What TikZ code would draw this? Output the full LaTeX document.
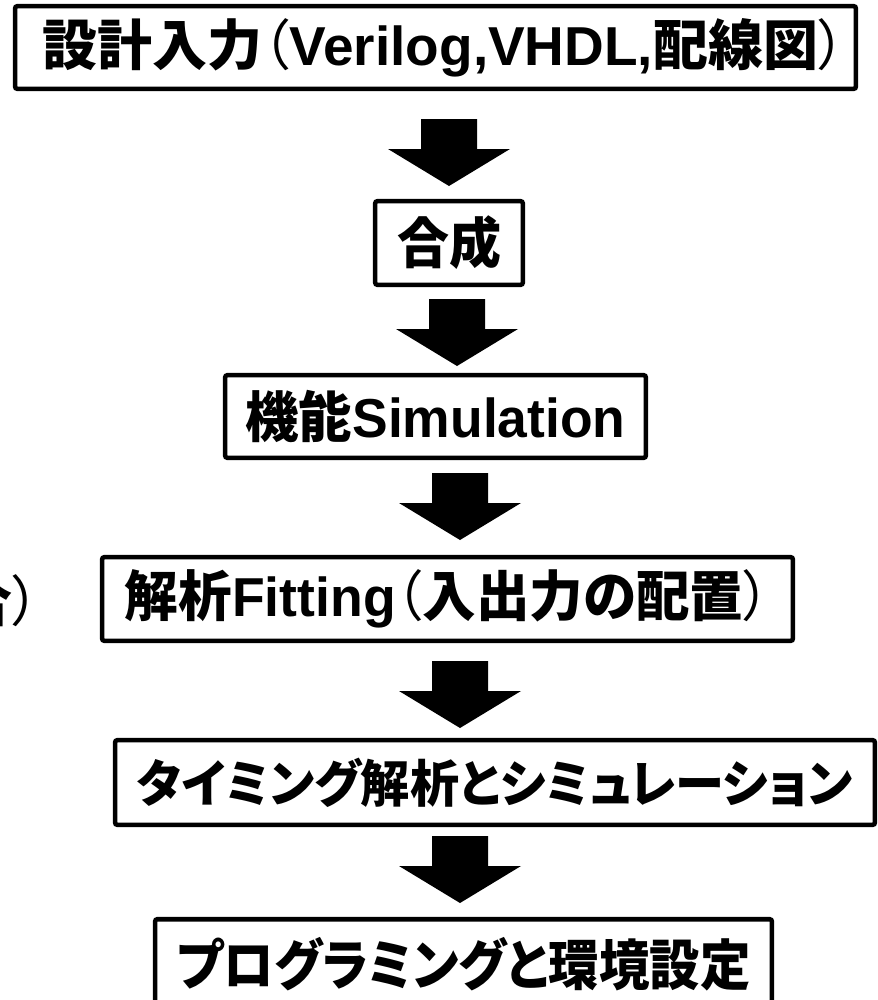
\documentclass[tikz,border=0pt]{standalone}
\usepackage{fontspec}
\usepackage{graphicx}
\setmainfont{Liberation Sans}
\newfontfamily\jpf{Noto Sans CJK JP}[RawFeature=+palt]
\newfontfamily\latf{Liberation Sans}
\newsavebox\fitbox
\newdimen\pxu \pxu=0.025cm
\newcommand\fitto[2]{\sbox\fitbox{#2}\resizebox{#1\pxu}{\ht\fitbox}{\usebox\fitbox}}
\newcommand\J{\jpf\bfseries}
\newcommand\JP{\jpf\mdseries}
\newcommand\LA{\latf\bfseries}
\tikzset{
  stagebox/.style={draw=black, line width=0.1125cm, rounded corners=0.05cm, inner sep=0pt, fill=white, align=center},
  big/.style={font=\fontsize{39pt}{44pt}\selectfont},
  mid/.style={font=\fontsize{36pt}{40pt}\selectfont},
  downarrow/.pic={\fill[black] (-28,0) -- (28,0) -- (28,30) -- (61,30) -- (0,67) -- (-61,30) -- (-28,30) -- cycle;}
}
\begin{document}
\begin{tikzpicture}[x=0.025cm, y=-0.025cm]
\path[use as bounding box, clip] (0,0) rectangle (878,1000);
\fill[white] (0,0) rectangle (878,1000);

\node[stagebox, big, minimum width=21.0125cm, minimum height=2.0625cm] (b1) at (435.5,47.5)
  {\hspace*{17\pxu}\fitto{803}{\J 設計入力\JP （\LA Verilog,VHDL,\J 配線図\JP ）}};
\node[stagebox, big, minimum width=3.6875cm, minimum height=2.0875cm] (b2) at (449,243)
  {\fitto{104}{\J 合成}};
\node[stagebox, big, minimum width=10.5125cm, minimum height=2.0625cm] (b3) at (435.5,416.5)
  {\fitto{380}{\J 機能\LA Simulation}};
\node[stagebox, big, minimum width=17.2625cm, minimum height=2.0875cm] (b4) at (447.5,599)
  {\fitto{645}{\J 解析\LA Fitting\JP （\J 入出力の配置\JP ）}};
\node[stagebox, mid, minimum width=18.9875cm, minimum height=2.1125cm] (b5) at (495,782.5)
  {\fitto{716}{\J タイミング解析とシミュレーション}};
\node[stagebox, big, minimum width=15.4125cm, minimum height=2.2625cm] (b6) at (463.5,964.5)
  {\fitto{574}{\J プログラミングと環境設定}};

\node[big, inner sep=0pt, anchor=base east] (frag) at (40,621) {\J 合\JP ）};

\pic (a1) at (449,119) {downarrow};
\pic (a2) at (457,299) {downarrow};
\pic (a3) at (460,473) {downarrow};
\pic (a4) at (460,661) {downarrow};
\pic (a5) at (460,836) {downarrow};
\end{tikzpicture}
\end{document}
